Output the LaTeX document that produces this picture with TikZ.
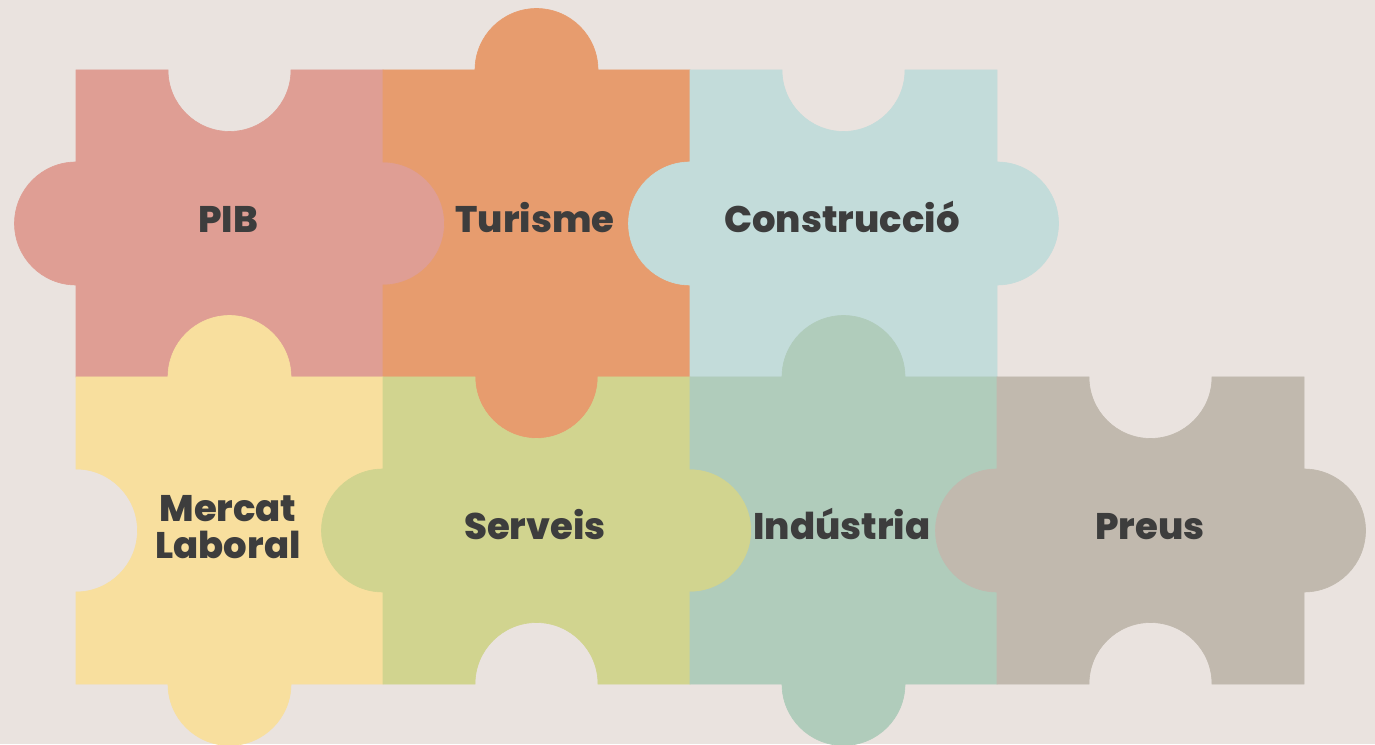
\documentclass[tikz,border=0pt]{standalone}
\usepackage{fontspec}
\setmainfont{Poppins}[BoldFont={* ExtraBold}]
\definecolor{bgcol}{HTML}{EAE3DF}
\definecolor{pibcol}{HTML}{DF9E94}
\definecolor{turcol}{HTML}{E79C6E}
\definecolor{concol}{HTML}{C3DCDA}
\definecolor{mercol}{HTML}{F8DF9E}
\definecolor{sercol}{HTML}{D1D48F}
\definecolor{indcol}{HTML}{B0CCBB}
\definecolor{precol}{HTML}{C1B9AE}
\definecolor{textcol}{HTML}{3D3D3D}
% lower left x, lower left y, sign of the knobs, colour
\newcommand{\puzzlepiece}[4]{%
  \path[fill=#4, draw=#4, line width=0.6pt] (#1,#2+307) -- ++(92,0)
    arc[start angle=180, delta angle={180*(#3)}, radius=61.5] -- (#1+307,#2+307)
    -- ++(0,-92) arc[start angle=90, delta angle={-180*(#3)}, radius=61.5] -- (#1+307,#2)
    -- ++(-92,0) arc[start angle=0, delta angle={180*(#3)}, radius=61.5] -- (#1,#2)
    -- ++(0,92) arc[start angle=270, delta angle={-180*(#3)}, radius=61.5] -- cycle;
}
\tikzset{
  piecetext/.style={font=\fontsize{37}{37}\selectfont\bfseries, text=textcol, align=center, inner sep=0pt}
}
\begin{document}
\begin{tikzpicture}[x=1pt, y=1pt]
\fill[bgcol] (0,0) rectangle (1375,744);
\useasboundingbox (0,0) rectangle (1375,744);

\puzzlepiece{76}{367}{1}{pibcol}
\puzzlepiece{383}{367}{-1}{turcol}
\puzzlepiece{690}{367}{1}{concol}
\puzzlepiece{76}{60}{-1}{mercol}
\puzzlepiece{383}{60}{1}{sercol}
\puzzlepiece{690}{60}{-1}{indcol}
\puzzlepiece{997}{60}{1}{precol}

\node[piecetext, anchor=base] (pib) at (228,511){PIB};
\node[piecetext, anchor=base] (turisme) at (535,511){Turisme};
\node[piecetext, anchor=base] (construccio) at (842,511){Construcció};
\node[piecetext] (mercat) at (228,217){Mercat\\Laboral};
\node[piecetext, anchor=base] (serveis) at (535,204){Serveis};
\node[piecetext, anchor=base] (industria) at (842,204){Indústria};
\node[piecetext, anchor=base] (preus) at (1150,204){Preus};

\end{tikzpicture}
\end{document}
